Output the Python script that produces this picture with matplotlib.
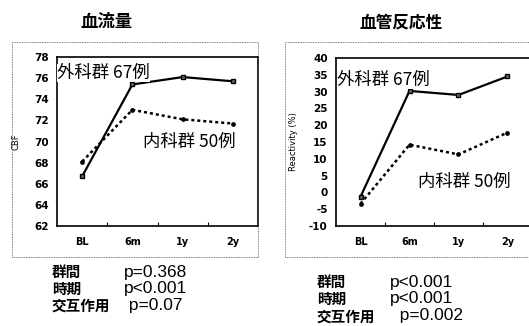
import matplotlib
matplotlib.use("Agg")
import matplotlib.pyplot as plt
from matplotlib.patches import Rectangle

plt.rcParams['font.family'] = ['Noto Sans CJK JP', 'DejaVu Sans']

categories = ["BL", "6m", "1y", "2y"]
cbf_surgical = [66.7, 75.4, 76.1, 75.7]
cbf_medical = [68.1, 73.0, 72.1, 71.7]
react_surgical = [-1.3, 30.2, 29.0, 34.5]
react_medical = [-3.4, 14.2, 11.3, 17.8]
cbf_ticks = [62, 64, 66, 68, 70, 72, 74, 76, 78]
react_ticks = [-10, -5, 0, 5, 10, 15, 20, 25, 30, 35, 40]
titles = ["血流量", "血管反応性"]
ylabels = ["CBF", "Reactivity (%)"]
label_surg = "外科群 67例"
label_med = "内科群 50例"
stats_names = ["群間", "時期", "交互作用"]
stats_left = ["p=0.368", "p<0.001", " p=0.07"]
stats_right = ["p<0.001", "p<0.001", "  p=0.002"]

W, H = 529, 326
fig = plt.figure(figsize=(W / 100, H / 100), dpi=100)


def fx(x):
    return x / W


def fy(y):
    return 1 - y / H


# dotted frames
for (x0, x1) in [(12, 258), (285, 540)]:
    fig.add_artist(Rectangle((fx(x0), fy(257)), fx(x1 - x0), (257 - 42) / H,
                             transform=fig.transFigure, fill=False,
                             ls=(0, (1, 1)), lw=0.6, ec="#555555"))


def make_ax(left, right, top, bottom, ys, ym, ticks, ylab, lpad):
    ax = fig.add_axes([fx(left), fy(bottom), fx(right - left), (bottom - top) / H])
    x = list(range(len(categories)))
    ax.plot(x, ys, color="black", lw=1.6, marker="s", ms=2.8, mfc="#666666", mec="black")
    ax.plot(x, ym, color="black", lw=1.8, ls=(0, (1.2, 1.2)), marker="o", ms=2.4)
    ax.set_xlim(-0.5, 3.5)
    ax.set_ylim(ticks[0], ticks[-1])
    ax.set_yticks(ticks)
    ax.set_yticklabels([str(t) for t in ticks], fontsize=7.5, fontweight="bold",
                       family="DejaVu Sans")
    ax.set_xticks(x)
    ax.set_xticklabels(categories, fontsize=7, fontweight="bold", family="DejaVu Sans")
    ax.tick_params(axis="x", length=0, pad=8)
    ax.set_xticks([0.5, 1.5, 2.5], minor=True)
    ax.tick_params(axis="x", which="minor", direction="in", length=3, width=0.8)
    ax.tick_params(axis="y", length=0, pad=6)
    for s in ax.spines.values():
        s.set_linewidth(1.2)
    ax.set_ylabel(ylab, fontsize=6, family="DejaVu Sans", labelpad=lpad)
    return ax


ax1 = make_ax(57, 258, 57, 226, cbf_surgical, cbf_medical, cbf_ticks, ylabels[0], 10)
ax2 = make_ax(336, 532, 58, 226, react_surgical, react_medical, react_ticks, ylabels[1], 8)

fig.text(fx(106), fy(22), titles[0], fontsize=12.5, fontweight="bold", ha="center", va="center")
fig.text(fx(401), fy(22), titles[1], fontsize=12, fontweight="bold", ha="center", va="center")

bb = dict(facecolor="white", edgecolor="none", pad=0)
fig.text(fx(57), fy(73), label_surg, fontsize=12.5, ha="left", va="center", bbox=bb)
fig.text(fx(143), fy(142), label_med, fontsize=12.5, ha="left", va="center")
fig.text(fx(337), fy(80), label_surg, fontsize=12.5, ha="left", va="center", bbox=bb)
fig.text(fx(418), fy(182), label_med, fontsize=12.5, ha="left", va="center")

# statistics blocks
fig.text(fx(52), fy(289), "\n".join(stats_names), fontsize=10.5, fontweight="bold",
         ha="left", va="center", linespacing=1.05)
fig.text(fx(124), fy(289), "\n".join(stats_left), fontsize=12.5, ha="left", va="center",
         family="Liberation Sans", linespacing=1.1)
fig.text(fx(317), fy(299), "\n".join(stats_names), fontsize=10.5, fontweight="bold",
         ha="left", va="center", linespacing=1.1)
fig.text(fx(390), fy(299), "\n".join(stats_right), fontsize=12.5, ha="left", va="center",
         family="Liberation Sans", linespacing=1.15)

fig.savefig("out.png", dpi=100)
